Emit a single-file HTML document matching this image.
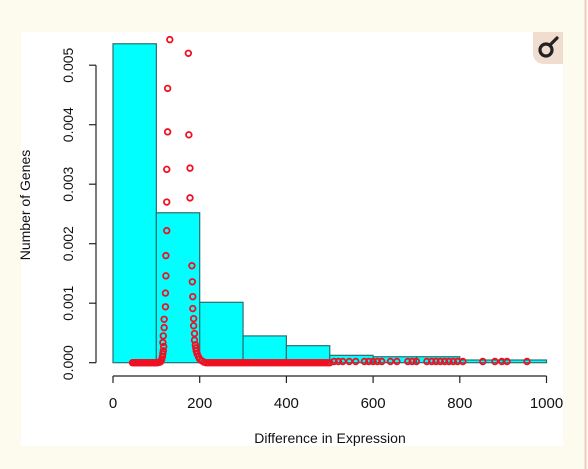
<!DOCTYPE html>
<html><head><meta charset="utf-8"><style>
html,body{margin:0;padding:0;background:#fdfaee;}
#wrap{position:relative;width:588px;height:469px;overflow:hidden;background:#fdfaee;}
svg{position:absolute;left:0;top:0;}
text{font-family:"Liberation Sans",sans-serif;fill:#111;}
</style></head><body>
<div id="wrap">
<svg id="chart" width="588" height="469">
  <rect x="21" y="32" width="542" height="414" fill="#ffffff"/>
  <line x1="585.5" y1="0" x2="585.5" y2="469" stroke="#f2c9c0" stroke-width="2"/>
  <g>
    <path d="M533 32 H563 V64 H545 Q533 64 533 52 Z" fill="#f1ddd0"/>
    <circle cx="546" cy="50" r="6" fill="none" stroke="#222" stroke-width="3.2"/>
    <line x1="550" y1="45" x2="557" y2="38" stroke="#222" stroke-width="3.2" stroke-linecap="round"/>
  </g>
  <g id="bars"></g>
  <g id="points"></g>
  <g id="axes"></g>
  <text x="330" y="443" font-size="14" text-anchor="middle">Difference in Expression</text>
  <text transform="translate(30,205) rotate(-90)" font-size="14" text-anchor="middle">Number of Genes</text>
</svg>
</div>
<script>
const binStarts = [0,100,200,300,400,500,600,700,800,900];
const binDensity = [0.00536,0.00252,0.001015,0.00045,0.000286,0.000124,0.0001,0.0001,0.000045,0.000045];
const xTicks = [0,200,400,600,800,1000];
const yTicks = [0,0.001,0.002,0.003,0.004,0.005];
const yTickLabels = ["0.000","0.001","0.002","0.003","0.004","0.005"];
// left peak (x, y in 1e-3 units)
const leftX = [45,48,51,54,57,60,63,66,69,72,75,78,81,84,87,90,93,96,99,102,105,108,110,112,114,115,116,117,
  115,116,118,118,121,121,122,122,124,124,124,126,126,131];
const leftY = [0,0,0,0,0,0,0,0,0,0,0,0,0,0,0,0,0,0,0,0,0.005,0.01,0.02,0.05,0.1,0.15,0.2,0.27,
  0.34,0.45,0.59,0.73,0.94,1.17,1.46,1.80,2.22,2.70,3.25,3.88,4.61,5.43];
// right peak and tail
const rightX = [173.8,175,177.6,177.6,182,183,184,184,186,186,188,188,190,191,192,194,197,200,205,210,
  215,220,225,230,235,240,245,250,255,260,265,270,275,280,285,290,295,300,305,310,315,320,325,330,335,340,345,350,
  355,360,365,370,375,380,385,390,395,400,405,410,415,420,425,430,435,440,445,450,455,460,465,470,475,480,485,490,495,500];
const rightY = [5.20,3.83,3.27,2.77,1.63,1.36,1.11,0.91,0.74,0.62,0.49,0.38,0.30,0.25,0.20,0.15,0.10,0.06,0.03,0.01,
  0,0,0,0,0,0,0,0,0,0,0,0,0,0,0,0,0,0,0,0,0,0,0,0,0,0,0,0,
  0,0,0,0,0,0,0,0,0,0,0,0,0,0,0,0,0,0,0,0,0,0,0,0,0,0,0,0,0,0];
// scattered far tail
const tailX = [510,520,530,545,560,580,590,600,610,620,640,655,680,690,700,724,735,745,755,765,775,785,795,807,853,881,897,909,955];
const tailY = [0.02,0.02,0.02,0.02,0.02,0.02,0.02,0.02,0.02,0.02,0.02,0.02,0.02,0.02,0.02,0.02,0.02,0.02,0.02,0.02,0.02,0.02,0.02,0.02,0.02,0.02,0.02,0.02,0.02];
const NS="http://www.w3.org/2000/svg";
function sx(v){return 113+v*0.4335;}
function sy(v){return 362.7-v*59500;}
const bars=document.getElementById('bars');
binStarts.forEach((b,i)=>{
  const r=document.createElementNS(NS,'rect');
  r.setAttribute('x',sx(b));r.setAttribute('width',sx(b+100)-sx(b));
  r.setAttribute('y',sy(binDensity[i]));r.setAttribute('height',sy(0)-sy(binDensity[i]));
  r.setAttribute('fill','#00ffff');r.setAttribute('stroke','#2b6e6e');r.setAttribute('stroke-width','1.2');
  
  
  bars.appendChild(r);
});
const pts=document.getElementById('points');
function drawPts(xs,ys){
  const n=Math.min(xs.length,ys.length);
  for(let i=0;i<n;i++){
    const c=document.createElementNS(NS,'circle');
    c.setAttribute('cx',sx(xs[i]));c.setAttribute('cy',sy(ys[i]/1000));c.setAttribute('r','2.8');
    c.setAttribute('fill','none');c.setAttribute('stroke','#ee1122');c.setAttribute('stroke-width','1.8');
    
    
    pts.appendChild(c);
  }
}
drawPts(leftX,leftY);drawPts(rightX,rightY);drawPts(tailX,tailY);
const ax=document.getElementById('axes');
function add(tag,attrs,name,txt){const e=document.createElementNS(NS,tag);for(const k in attrs)e.setAttribute(k,attrs[k]);
  
  
  if(txt!==undefined)e.textContent=txt;ax.appendChild(e);return e;}
add('line',{x1:sx(0),x2:sx(1000),y1:376,y2:376,stroke:'#222','stroke-width':1.2},'x-axis-line');
xTicks.forEach(t=>{
  add('line',{x1:sx(t),x2:sx(t),y1:376,y2:383,stroke:'#222','stroke-width':1.2},'x-tick');
  add('text',{x:sx(t),y:408,'font-size':15,'text-anchor':'middle'},'x-tick-label',String(t));
});
add('line',{x1:96,x2:96,y1:sy(0.005),y2:sy(0),stroke:'#222','stroke-width':1.2},'y-axis-line');
yTicks.forEach((t,i)=>{
  add('line',{x1:89,x2:96,y1:sy(t),y2:sy(t),stroke:'#222','stroke-width':1.2},'y-tick');
  add('text',{transform:'translate(73,'+sy(t)+') rotate(-90)','font-size':14,'text-anchor':'middle'},'y-tick-label',yTickLabels[i]);
});
</script>
</body></html>
